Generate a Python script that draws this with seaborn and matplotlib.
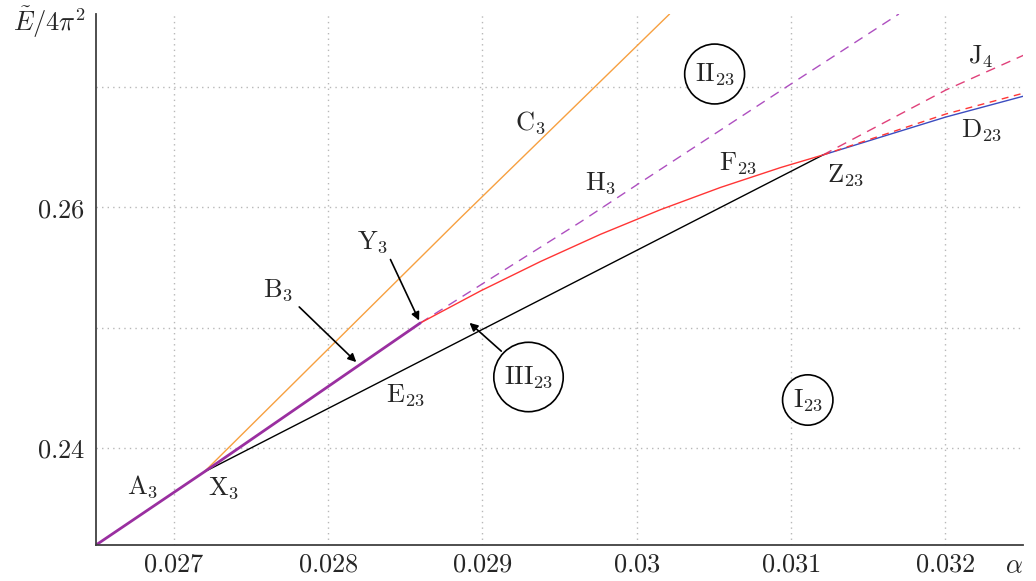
import numpy as np
import matplotlib
matplotlib.use("Agg")
import matplotlib.pyplot as plt
import seaborn as sns

# ---- data (alpha, E/4pi^2) ----
alpha_AB = [0.026494, 0.027195, 0.028597]          # A3 + B3 (purple, through X3 to Y3)
E_AB = [0.23195, 0.238008, 0.250373]

alpha_C = [0.027195, 0.028857, 0.030214]           # C3 (orange)
E_C = [0.238008, 0.259087, 0.276017]

alpha_H = [0.028597, 0.029636, 0.0300, 0.030981, 0.031701]   # H3 (purple dashed)
E_H = [0.250373, 0.258755, 0.261826, 0.270041, 0.276017]

alpha_F = [0.028597, 0.028987, 0.029377, 0.029766, 0.030156, 0.030545, 0.030935, 0.031208]  # F23 (red)
E_F = [0.250373, 0.253029, 0.255477, 0.257734, 0.259784, 0.261627, 0.263278, 0.264315]

alpha_E = [0.027195, 0.031208]                      # E23 (black)
E_E = [0.238008, 0.264315]

alpha_D = [0.031208, 0.032006, 0.032513]            # D23 (blue)
E_D = [0.264315, 0.267469, 0.269212]

alpha_Fd = [0.031208, 0.032006, 0.032513]           # continuation of F23 (red dashed)
E_Fd = [0.264315, 0.267718, 0.269461]

alpha_J = [0.031208, 0.032006, 0.032513]            # J4 (red dashed)
E_J = [0.264315, 0.26971, 0.272614]

x_ticks = [0.027, 0.028, 0.029, 0.030, 0.031, 0.032]
x_labels = ["0.027", "0.028", "0.029", "0.03", "0.031", "0.032"]
y_ticks = [0.24, 0.25, 0.26, 0.27]
y_labels = ["0.24", "", "0.26", ""]

# curve labels: text, alpha, E
labels = [
    (r"$\mathrm{A}_3$", 0.026799, 0.236763),
    (r"$\mathrm{X}_3$", 0.027325, 0.23668),
    (r"$\mathrm{E}_{23}$", 0.0285, 0.244398),
    (r"$\mathrm{C}_3$", 0.029312, 0.266971),
    (r"$\mathrm{H}_3$", 0.029766, 0.261992),
    (r"$\mathrm{F}_{23}$", 0.030656, 0.263651),
    (r"$\mathrm{Z}_{23}$", 0.031357, 0.262656),
    (r"$\mathrm{D}_{23}$", 0.032234, 0.26639),
    (r"$\mathrm{J}_4$", 0.032234, 0.272448),
]
regions = [
    (r"$\mathrm{II}_{23}$", 0.030506, 0.271037),
    (r"$\mathrm{III}_{23}$", 0.029299, 0.245892),
    (r"$\mathrm{I}_{23}$", 0.03111, 0.243983),
]
# arrows: text, text pos, arrow start, arrow tip
arrows = [
    (r"$\mathrm{B}_3$", (0.027675, 0.253112), (0.027799, 0.251867), (0.028195, 0.246971)),
    (r"$\mathrm{Y}_3$", (0.028286, 0.257095), (0.028396, 0.255851), (0.028597, 0.250373)),
]
arrow_III = ((0.029136, 0.247884), (0.028903, 0.250539))

sns.set_style("white")
plt.rcParams["mathtext.fontset"] = "cm"
plt.rcParams["font.family"] = ["DejaVu Serif"]

fig = plt.figure(figsize=(10.36, 5.81), dpi=100)
ax = fig.add_axes([96 / 1036, 36 / 581, 927 / 1036, 531 / 581])

purple = "#9a2fa0"
sns.lineplot(x=alpha_C, y=E_C, ax=ax, color="#f7a040", lw=1.0, sort=False, estimator=None)
sns.lineplot(x=alpha_E, y=E_E, ax=ax, color="black", lw=1.0, sort=False, estimator=None)
sns.lineplot(x=alpha_H, y=E_H, ax=ax, color="#ae4fc0", lw=1.0, linestyle=(0, (7, 5)), sort=False, estimator=None)
sns.lineplot(x=alpha_F, y=E_F, ax=ax, color="#ff3535", lw=1.0, sort=False, estimator=None)
sns.lineplot(x=alpha_J, y=E_J, ax=ax, color="#e0407a", lw=1.0, linestyle=(0, (7, 5)), sort=False, estimator=None)
sns.lineplot(x=alpha_D, y=E_D, ax=ax, color="#3c4cc0", lw=1.0, sort=False, estimator=None)
sns.lineplot(x=alpha_Fd, y=E_Fd, ax=ax, color="#ff3535", lw=1.0, linestyle=(0, (5, 4)), sort=False, estimator=None)
sns.lineplot(x=alpha_AB, y=E_AB, ax=ax, color=purple, lw=2.0, sort=False, estimator=None)

ax.set_xlim(0.026494, 0.032506)
ax.set_ylim(0.23195, 0.276017)
ax.set_xticks(x_ticks, [r"$%s$" % t for t in x_labels])
ax.set_yticks(y_ticks, [r"$%s$" % t if t else "" for t in y_labels])
ax.set_xlabel("")
ax.set_ylabel("")
ax.grid(True, color="#b8b8b8", linestyle=(0, (1, 3)), lw=1.0)
ax.tick_params(direction="in", length=6, width=1.2, color="#404040",
               labelsize=19)
ax.tick_params(axis="x", pad=5)
ax.tick_params(axis="y", pad=8)

for side in ["top", "right"]:
    ax.spines[side].set_visible(False)
for side in ["left", "bottom"]:
    ax.spines[side].set_color("#404040")
    ax.spines[side].set_linewidth(1.3)
ax.plot(1, 0, ">", color="#404040", ms=5, transform=ax.get_yaxis_transform(), clip_on=False)
ax.plot(0, 1, "^", color="#404040", ms=5, transform=ax.get_xaxis_transform(), clip_on=False)

for txt, x, y in labels:
    ax.text(x, y, txt, fontsize=19, ha="center", va="center")
for txt, x, y in regions:
    ax.text(x, y, txt, fontsize=19, ha="center", va="center",
            bbox=dict(boxstyle="circle,pad=0.38", fc="white", ec="black", lw=1.2))
for txt, tpos, start, tip in arrows:
    ax.text(tpos[0], tpos[1], txt, fontsize=19, ha="center", va="center")
    ax.annotate("", xy=tip, xytext=start,
                arrowprops=dict(arrowstyle="-|>", color="black", lw=1.2, mutation_scale=12))
ax.annotate("", xy=arrow_III[1], xytext=arrow_III[0],
            arrowprops=dict(arrowstyle="-|>", color="black", lw=1.2, mutation_scale=12))

ax.text(-0.05, 0.985, r"$\tilde{E}/4\pi^2$", fontsize=19, ha="center", va="center",
        transform=ax.transAxes)
ax.text(0.99, -0.038, r"$\alpha$", fontsize=19, ha="center", va="center",
        transform=ax.transAxes)

fig.savefig("out.png", dpi=100)
